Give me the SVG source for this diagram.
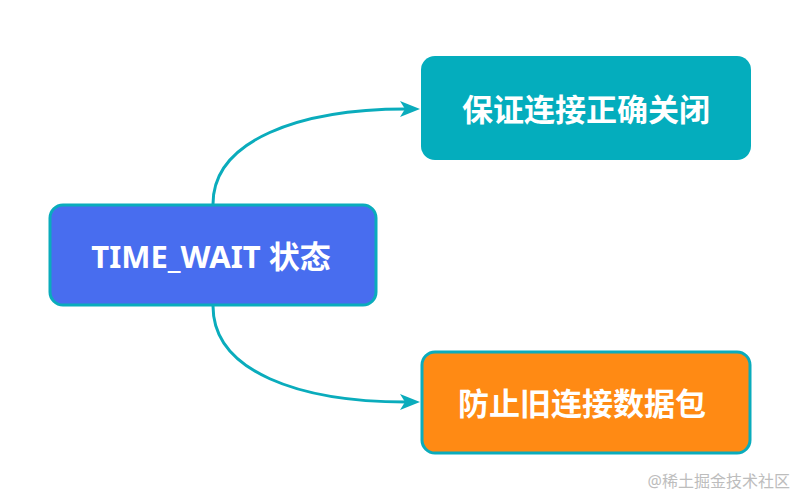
<svg xmlns="http://www.w3.org/2000/svg" width="800" height="499" viewBox="0 0 800 499">
<style>
.lbl{font-family:"Noto Sans","Noto Sans CJK SC",sans-serif;font-weight:bold;fill:#ffffff;text-anchor:middle;dominant-baseline:central}
.conn{fill:none;stroke:#0AACBC;stroke-width:3}
.head{fill:#0AACBC}
</style>
<rect width="800" height="499" fill="#ffffff"/>
<g id="connectors">
<path class="conn" d="M213,204 C213,140 300,109 406,109"/>
<path class="conn" d="M213,306 C213,372 300,402 406,402"/>
<path class="head" d="M400,101 L420,109 L400,117 L405,109 Z"/>
<path class="head" d="M400,394 L420,402 L400,410 L405,402 Z"/>
</g>
<g id="node-timewait">
<rect x="50" y="205" width="326" height="100" rx="13" fill="#486DEF" stroke="#0AACBC" stroke-width="3"/>
<text class="lbl" x="211" y="256" font-size="31">TIME_WAIT 状态</text>
</g>
<g id="node-close">
<rect x="421" y="56" width="330" height="104" rx="14" fill="#04ADBD"/>
<text class="lbl" x="586" y="109" font-size="31">保证连接正确关闭</text>
</g>
<g id="node-old">
<rect x="422" y="352" width="328" height="101" rx="13" fill="#FF8A14" stroke="#0AACBC" stroke-width="3"/>
<text class="lbl" x="582" y="403" font-size="31">防止旧连接数据包</text>
</g>
<text x="790" y="487" font-family="'Noto Sans','Noto Sans CJK SC',sans-serif" font-size="16" fill="#BDBDBD" text-anchor="end">@稀土掘金技术社区</text>
</svg>
